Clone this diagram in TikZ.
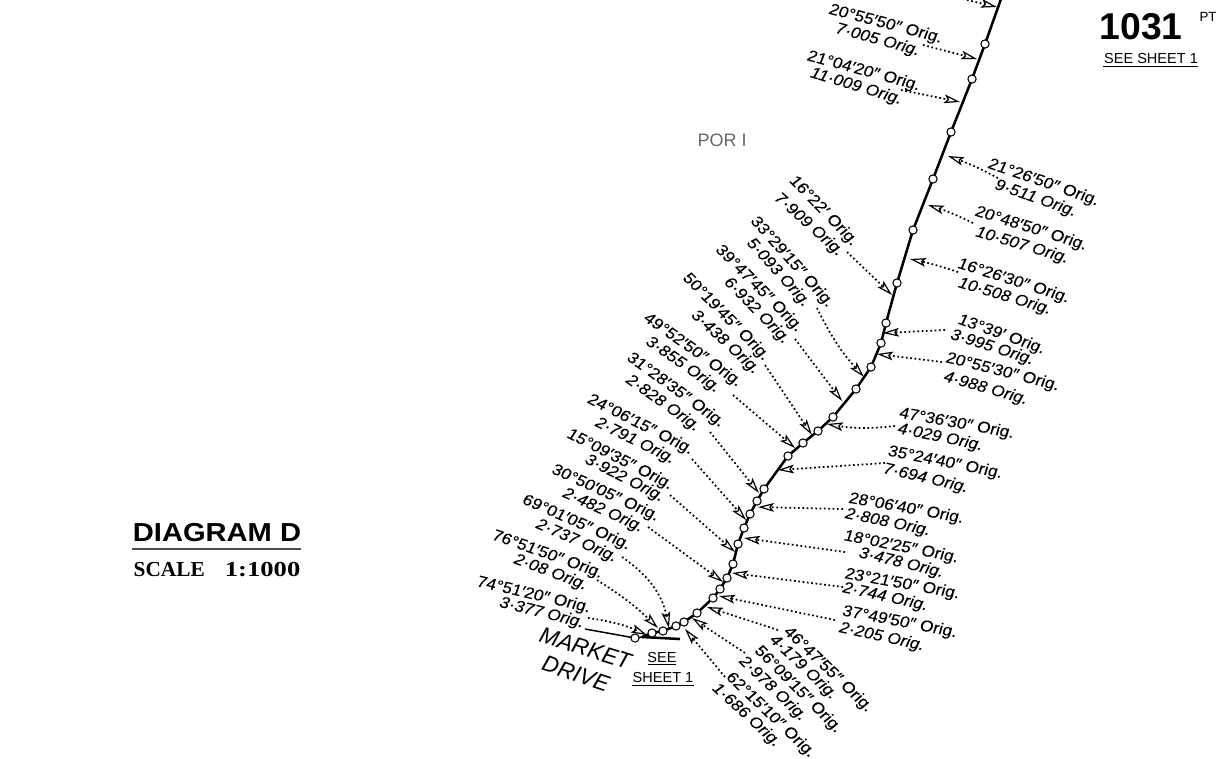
\documentclass[tikz,border=0pt]{standalone}
\usepackage{fontspec}
\usetikzlibrary{arrows.meta}
\setmainfont{Liberation Sans}
\newfontfamily\lone{Liberation Sans}[FakeStretch=1.08,FakeSlant=0.10,FakeBold=0.06]
\newfontfamily\ltwo{Liberation Sans Italic}[FakeStretch=1.08,FakeBold=0.06]
\newfontfamily\dia{Liberation Sans Bold}[FakeStretch=1.12]
\newfontfamily\sca{Liberation Serif Bold}
\newfontfamily\scb{Liberation Serif Bold}[FakeStretch=1.25]
\newfontfamily\mkt{Liberation Sans Italic}
\tikzset{
  x=0.75pt,y=-0.75pt,
  sta/.style={circle,draw=black,fill=white,line width=0.8pt,inner sep=0pt,minimum size=6.2pt},
  mainline/.style={line width=1.9pt,line join=round},
  lead/.style={line width=1.3pt,dash pattern=on 1.3pt off 1.95pt,
    -{Stealth[open,length=12pt,width=6.5pt,inset=2.5pt,line width=0.9pt]}},
  la/.style={inner sep=0pt,text height=8pt,text depth=0pt,font=\fontsize{12}{13}\lone},
  lb/.style={inner sep=0pt,text height=8pt,text depth=0pt,font=\fontsize{12}{13}\ltwo},
  small/.style={inner sep=0pt,font=\fontsize{10.9}{13}\selectfont},
  rulel/.style={line width=0.7pt},
}
\newcommand{\lab}[6]{%
  \path (#2,#3) -- (#4,#5) node[midway,sloped,la] (#1) {#6};}
\newcommand{\lbb}[6]{%
  \path (#2,#3) -- (#4,#5) node[midway,sloped,lb] (#1) {#6};}
\newcommand{\arr}[6]{%
  \coordinate (#1s) at (#2,#3);\coordinate (#1t) at (#4,#5);
  \draw[lead] (#1s) to[bend left=#6] (#1t);}
\begin{document}
\begin{tikzpicture}
\useasboundingbox (0,0) rectangle (1219,758);
\clip (0,0) rectangle (1219,758);
\coordinate (top) at (1001,-1);
\coordinate (endA) at (680,639);
\coordinate (endB) at (585,629);
\foreach \n/\x/\y in {p1/985/44,p2/972/79,p3/951/132,p4/933/179,p5/913/230,p6/897/283,
  p7/886/323,p8/881/343,p9/871/367,p10/856/389,p11/833/417,p12/818/431,p13/803/443,p14/788/456,
  p15/764/489,p16/757/501,p17/750/514,p18/744/528,p19/738/544,p20/733/564,p21/727/578,p22/720/589,
  p23/713/598,p24/697/613,p25/684/622,p26/676/626,p27/663/631,p28/652/633,p29/635/638}
  {\coordinate (\n c) at (\x,\y);}
\draw[mainline] (top) -- (p1c) -- (p2c) -- (p3c) -- (p4c) -- (p5c) -- (p6c) -- (p7c) -- (p8c) -- (p9c)
  -- (p10c) -- (p11c) -- (p12c) -- (p13c) -- (p14c) -- (p15c) -- (p16c) -- (p17c) -- (p18c) -- (p19c)
  -- (p20c) -- (p21c) -- (p22c) -- (p23c) -- (p24c) -- (p25c) -- (p26c) -- (p27c) -- (p28c) -- (642,637);
\draw[mainline] (642,637) -- (endA);
\draw[line width=1.1pt] (endB) -- (p29c) -- (642,637);
\foreach \n in {1,...,29} {\node[sta] (p\n) at (p\n c) {};}
\arr{a0}{967}{0}{997}{7}{0}
\arr{a1}{923}{45}{977}{59}{0}
\arr{a2}{901}{90}{960}{102}{0}
\arr{a3}{998}{178}{948}{156}{-4}
\arr{a4}{973}{223}{928}{205}{-4}
\arr{a5}{958}{272}{910}{259}{-3}
\arr{a6}{847}{252}{892}{295}{0}
\arr{a7}{817}{308}{864}{377}{-8}
\arr{a8}{795}{339}{842}{401}{0}
\arr{a9}{765}{365}{812}{435}{0}
\arr{a10}{733}{395}{795}{448}{0}
\arr{a11}{710}{432}{759}{493}{0}
\arr{a12}{692}{459}{746}{520}{0}
\arr{a13}{670}{495}{735}{552}{0}
\arr{a14}{648}{527}{723}{582}{0}
\arr{a15}{622}{557}{669}{628}{22}
\arr{a16}{597}{580}{658}{628}{6}
\arr{a17}{588}{618}{647}{635}{8}
\arr{b1}{945}{330}{883}{333}{0}
\arr{b2}{942}{362}{877}{354}{0}
\arr{b3}{895}{426}{827}{424}{8}
\arr{b4}{885}{463}{778}{470}{0}
\arr{b5}{843}{509}{758}{507}{0}
\arr{b6}{845}{552}{744}{538}{0}
\arr{b7}{843}{587}{732}{573}{0}
\arr{b8}{835}{620}{719}{596}{0}
\arr{b9}{778}{630}{707}{607}{0}
\arr{b10}{745}{653}{692}{618}{0}
\arr{b11}{725}{677}{685}{629}{0}
\lab{l1a}{828}{8}{943}{38}{20°55′50″ Orig.}
\lbb{l1b}{838}{28}{918}{50}{7·005 Orig.}
\lab{l2a}{808}{55}{919}{85}{21°04′20″ Orig.}
\lbb{l2b}{815}{73}{898}{98}{11·009 Orig.}
\lab{l3a}{990}{163}{1097}{200}{21°26′50″ Orig.}
\lbb{l3b}{1000}{185}{1072}{210}{9·511 Orig.}
\lab{l4a}{975}{210}{1087}{245}{20°48′50″ Orig.}
\lbb{l4b}{980}{232}{1065}{257}{10·507 Orig.}
\lab{l5a}{960}{263}{1067}{297}{16°26′30″ Orig.}
\lbb{l5b}{963}{283}{1047}{308}{10·508 Orig.}
\lab{l6a}{955}{317}{1048}{350}{13°39′ Orig.}
\lbb{l6b}{950}{333}{1035}{360}{3·995 Orig.}
\lab{l7a}{947}{357}{1058}{385}{20°55′30″ Orig.}
\lbb{l7b}{942}{375}{1030}{400}{4·988 Orig.}
\lab{l8a}{898}{412}{1015}{433}{47°36′30″ Orig.}
\lbb{l8b}{899}{428}{982}{445}{4·029 Orig.}
\lab{l9a}{887}{450}{1003}{473}{35°24′40″ Orig.}
\lbb{l9b}{885}{468}{967}{487}{7·694 Orig.}
\lab{l10a}{847}{497}{965}{518}{28°06′40″ Orig.}
\lbb{l10b}{847}{513}{929}{530}{2·808 Orig.}
\lab{l11a}{845}{535}{957}{557}{18°02′25″ Orig.}
\lbb{l11b}{860}{552}{943}{572}{3·478 Orig.}
\lab{l12a}{846}{573}{958}{593}{23°21′50″ Orig.}
\lbb{l12b}{844}{587}{927}{605}{2·744 Orig.}
\lab{l13a}{842}{610}{957}{632}{37°49′50″ Orig.}
\lbb{l13b}{841}{627}{923}{645}{2·205 Orig.}
\lab{l14a}{785}{627}{872}{710}{46°47′55″ Orig.}
\lbb{l14b}{776}{640}{832}{693}{4·179 Orig.}
\lab{l15a}{757}{647}{840}{730}{56°09′15″ Orig.}
\lbb{l15b}{742}{658}{805}{718}{2·978 Orig.}
\lab{l16a}{730}{675}{812}{753}{62°15′10″ Orig.}
\lbb{l16b}{717}{687}{777}{742}{1·686 Orig.}
\lab{m1a}{793}{178}{855}{242}{16°22′ Orig.}
\lbb{m1b}{777}{195}{842}{253}{7·909 Orig.}
\lab{m2a}{753}{217}{832}{305}{33°29′15″ Orig.}
\lbb{m2b}{752}{242}{806}{302}{5·093 Orig.}
\lab{m3a}{717}{245}{802}{330}{39°47′45″ Orig.}
\lbb{m3b}{728}{280}{787}{340}{6·932 Orig.}
\lab{m4a}{686}{275}{767}{357}{50°19′45″ Orig.}
\lbb{m4b}{695}{313}{757}{370}{3·438 Orig.}
\lab{m5a}{645}{315}{741}{383}{49°52′50″ Orig.}
\lbb{m5b}{649}{340}{718}{388}{3·855 Orig.}
\lab{m6a}{629}{355}{723}{423}{31°28′35″ Orig.}
\lbb{m6b}{629}{378}{698}{427}{2·828 Orig.}
\lab{m7a}{588}{397}{693}{450}{24°06′15″ Orig.}
\lbb{m7b}{599}{422}{672}{458}{2·791 Orig.}
\lab{m8a}{568}{432}{672}{485}{15°09′35″ Orig.}
\lbb{m8b}{587}{458}{663}{497}{3·922 Orig.}
\lab{m9a}{551}{467}{660}{517}{30°50′05″ Orig.}
\lbb{m9b}{565}{492}{642}{527}{2·482 Orig.}
\lab{m10a}{523}{498}{630}{545}{69°01′05″ Orig.}
\lbb{m10b}{538}{523}{616}{557}{2·737 Orig.}
\lab{m11a}{493}{534}{602}{573}{76°51′50″ Orig.}
\lbb{m11b}{515}{558}{587}{585}{2·08 Orig.}
\lab{m12a}{478}{581}{589}{607}{74°51′20″ Orig.}
\lbb{m12b}{502}{602}{582}{622}{3·377 Orig.}
\path (538,633) -- (633,663) node[midway,sloped,inner sep=0pt,text height=12pt,text depth=0pt,font=\fontsize{17}{20}\mkt] (market) {MARKET};
\path (542,662) -- (610,685) node[midway,sloped,inner sep=0pt,text height=12pt,text depth=0pt,font=\fontsize{17}{20}\mkt] (drive) {DRIVE};
\node[small] (see) at (662,657) {SEE};
\node[small] (sheet) at (663,677) {SHEET 1};
\draw[rulel] (648,664) -- (676,664);
\draw[rulel] (632,685) -- (694,685);
\node[inner sep=0pt,font=\fontsize{28}{30}\bfseries] (num) at (1141,27) {1031};
\node[inner sep=0pt,font=\fontsize{10}{12}\selectfont] (pt) at (1208,17) {PT};
\node[small] (seeone) at (1151,58) {SEE SHEET 1};
\draw[rulel] (1103,66) -- (1198,66);
\node[inner sep=0pt,font=\fontsize{19.5}{22}\dia] (dtitle) at (217,533) {DIAGRAM D};
\draw[line width=1pt,black!70] (132,549) -- (301,549);
\node[inner sep=0pt,text width=125pt,font=\fontsize{16}{18}\sca] (scale) at (217,570) {SCALE\hfill{\scb 1:1000}};
\node[inner sep=0pt,text=black!60,font=\fontsize{13.5}{15}\selectfont] (por) at (722,140) {POR I};
\end{tikzpicture}
\end{document}
